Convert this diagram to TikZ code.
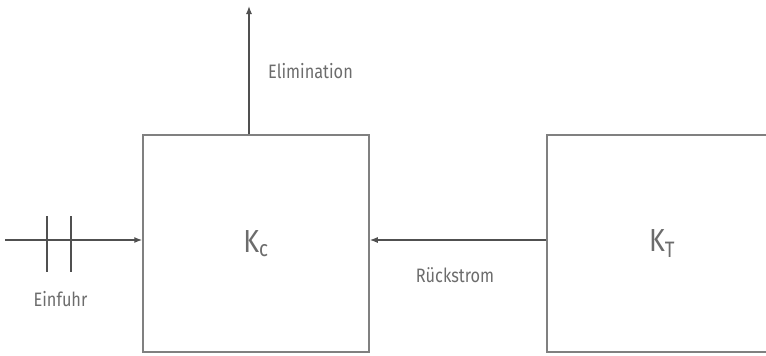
\documentclass[tikz,border=0pt]{standalone}
\usepackage{fontspec}
\setmainfont{Fira Sans}[FakeStretch=0.84]
\usepackage{tikz}
\usetikzlibrary{arrows.meta,calc,positioning}
\definecolor{txtc}{RGB}{108,108,108}
\definecolor{linec}{RGB}{80,80,80}
\definecolor{boxc}{RGB}{128,128,128}

\begin{document}
\begin{tikzpicture}[x=1bp,y=-1bp,
  box/.style={draw=boxc,line width=1.5bp,minimum width=226bp,minimum height=217bp,inner sep=0pt,font=\fontsize{32}{36}\selectfont,text=txtc},
  flow/.style={draw=linec,line width=1.3bp,-{Latex[length=8bp,width=6bp]}},
  lbl/.style={font=\fontsize{19.5}{23}\selectfont,text=txtc,inner sep=0pt}]
  \useasboundingbox (0,0) rectangle (766,355);
  \clip (0,0) rectangle (766,355);
  \node[box] (kc) at (256,243.5) {K\textsubscript{c}};
  \node[box,minimum width=230bp] (kt) at (662,243.5) {K\textsubscript{T}};
  \coordinate (in) at (5,240);
  \coordinate (out) at (249,6);
  \draw[flow] (in) -- (kc.west |- in);
  \foreach \x in {47,71} {\draw[linec,line width=2bp] (\x,216) -- (\x,272);}
  \draw[flow] (kc.north -| out) -- (out);
  \draw[flow] (kt.west |- in) -- (kc.east |- in);
  \node[lbl,anchor=west] (elim) at (268,71) {Elimination};
  \node[lbl] (einf) at (60.5,299) {Einfuhr};
  \node[lbl] (rueck) at (455,275) {Rückstrom};
\end{tikzpicture}
\end{document}
